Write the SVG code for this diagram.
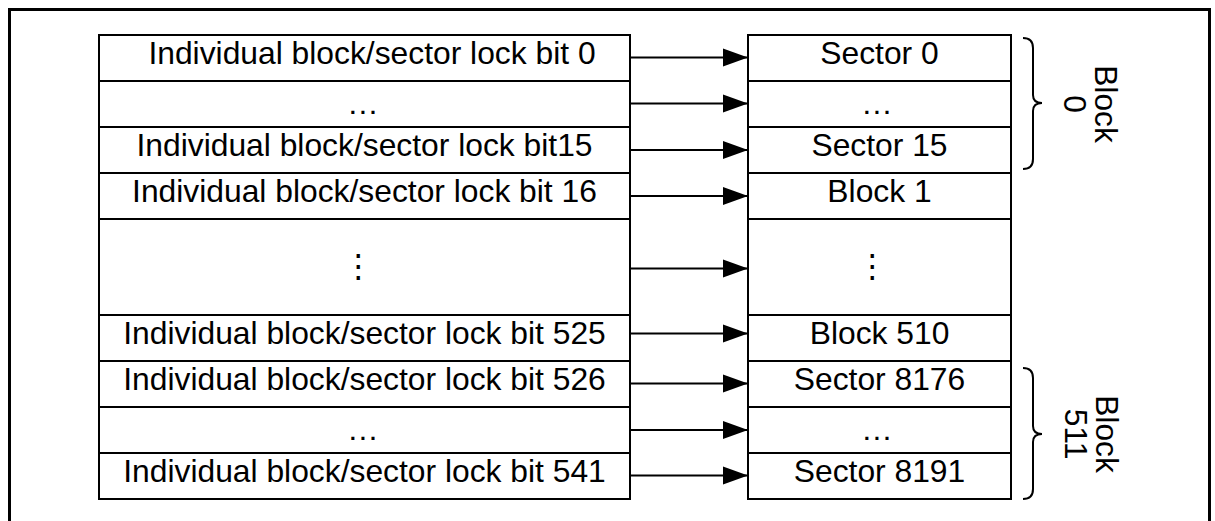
<svg xmlns="http://www.w3.org/2000/svg" width="1215" height="521" viewBox="0 0 1215 521">
  <style>
    .cell { fill: #fff; stroke: #000; stroke-width: 2; }
    .lbl { font-family: "Liberation Sans", Arial, sans-serif; font-size: 31.8px; fill: #000; text-anchor: middle; }
    .vdots { font-family: "Liberation Sans", "DejaVu Sans", sans-serif; }
    .conn { stroke: #000; stroke-width: 2; fill: none; marker-end: url(#head); }
    .brace { stroke: #000; stroke-width: 2; fill: none; }
  </style>
  <defs>
    <marker id="head" markerUnits="userSpaceOnUse" markerWidth="26" markerHeight="19" refX="25" refY="9.5" orient="auto">
      <path d="M0,0.5 L25,9.5 L0,18.5 z" fill="#000"/>
    </marker>
  </defs>

  <rect width="1215" height="521" fill="#fff"/>
  <!-- outer frame (open at the bottom edge) -->
  <rect x="9.5" y="9.5" width="1200" height="600" fill="none" stroke="#000" stroke-width="3"/>

  <!-- lock bit table -->
  <g id="lockbits">
    <g id="lb0"><rect class="cell" x="99" y="35" width="531" height="46"/><text class="lbl" x="372" y="63.5">Individual block/sector lock bit 0</text></g>
    <g id="lb1"><rect class="cell" x="99" y="81" width="531" height="46"/><text class="lbl" x="363" y="113.5">…</text></g>
    <g id="lb15"><rect class="cell" x="99" y="127" width="531" height="46"/><text class="lbl" x="364.5" y="155.5">Individual block/sector lock bit15</text></g>
    <g id="lb16"><rect class="cell" x="99" y="173" width="531" height="46"/><text class="lbl" x="364.5" y="201.5">Individual block/sector lock bit 16</text></g>
    <g id="lbmid"><rect class="cell" x="99" y="219" width="531" height="96"/><text class="lbl vdots" x="358.5" y="277">⋮</text></g>
    <g id="lb525"><rect class="cell" x="99" y="315" width="531" height="46"/><text class="lbl" x="364.5" y="343.5">Individual block/sector lock bit 525</text></g>
    <g id="lb526"><rect class="cell" x="99" y="361" width="531" height="46"/><text class="lbl" x="364.5" y="389.5">Individual block/sector lock bit 526</text></g>
    <g id="lb527"><rect class="cell" x="99" y="407" width="531" height="46"/><text class="lbl" x="363" y="439.5">…</text></g>
    <g id="lb541"><rect class="cell" x="99" y="453" width="531" height="46"/><text class="lbl" x="364.5" y="481.5">Individual block/sector lock bit 541</text></g>
  </g>

  <!-- memory sector table -->
  <g id="sectors">
    <g id="s0"><rect class="cell" x="748" y="35" width="263" height="46"/><text class="lbl" x="879.5" y="63.5">Sector 0</text></g>
    <g id="s1"><rect class="cell" x="748" y="81" width="263" height="46"/><text class="lbl" x="877" y="113.5">…</text></g>
    <g id="s15"><rect class="cell" x="748" y="127" width="263" height="46"/><text class="lbl" x="879.5" y="155.5">Sector 15</text></g>
    <g id="b1"><rect class="cell" x="748" y="173" width="263" height="46"/><text class="lbl" x="879.5" y="201.5">Block 1</text></g>
    <g id="bmid"><rect class="cell" x="748" y="219" width="263" height="96"/><text class="lbl vdots" x="872.5" y="277">⋮</text></g>
    <g id="b510"><rect class="cell" x="748" y="315" width="263" height="46"/><text class="lbl" x="879.5" y="343.5">Block 510</text></g>
    <g id="s8176"><rect class="cell" x="748" y="361" width="263" height="46"/><text class="lbl" x="879.5" y="389.5">Sector 8176</text></g>
    <g id="s8177"><rect class="cell" x="748" y="407" width="263" height="46"/><text class="lbl" x="877" y="439.5">…</text></g>
    <g id="s8191"><rect class="cell" x="748" y="453" width="263" height="46"/><text class="lbl" x="879.5" y="481.5">Sector 8191</text></g>
  </g>

  <!-- lock bit to sector arrows -->
  <g id="connectors">
    <line class="conn" x1="630" y1="57.5" x2="748" y2="57.5"/>
    <line class="conn" x1="630" y1="103.5" x2="748" y2="103.5"/>
    <line class="conn" x1="630" y1="150" x2="748" y2="150"/>
    <line class="conn" x1="630" y1="196" x2="748" y2="196"/>
    <line class="conn" x1="630" y1="268.5" x2="748" y2="268.5"/>
    <line class="conn" x1="630" y1="333.5" x2="748" y2="333.5"/>
    <line class="conn" x1="630" y1="383.5" x2="748" y2="383.5"/>
    <line class="conn" x1="630" y1="430" x2="748" y2="430"/>
    <line class="conn" x1="630" y1="475.5" x2="748" y2="475.5"/>
  </g>

  <!-- block 0 grouping -->
  <g id="block0">
    <path class="brace" d="M1023,38 Q1033,38 1033,48 L1033,95 Q1033,103 1042,103 Q1033,103 1033,111 L1033,159 Q1033,169 1023,169"/>
    <text class="lbl" transform="translate(1095,104) rotate(90)"><tspan x="0" y="0">Block</tspan><tspan x="0" y="31">0</tspan></text>
  </g>

  <!-- block 511 grouping -->
  <g id="block511">
    <path class="brace" d="M1023,368 Q1033,368 1033,378 L1033,426 Q1033,434 1042,434 Q1033,434 1033,442 L1033,489 Q1033,499 1023,499"/>
    <text class="lbl" transform="translate(1096,434) rotate(90)"><tspan x="0" y="0">Block</tspan><tspan x="0" y="31">511</tspan></text>
  </g>
</svg>
